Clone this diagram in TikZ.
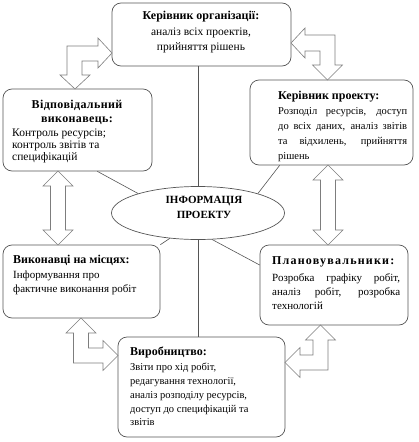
\documentclass[tikz,border=0pt]{standalone}
\usepackage{fontspec}
\setmainfont{Liberation Serif}
\usetikzlibrary{positioning,calc,shapes.geometric}
\definecolor{LineGray}{RGB}{85,85,85}
\definecolor{ArrowGray}{RGB}{125,125,125}

\begin{document}
\begin{tikzpicture}[x=1pt, y=-1pt,
    box/.style={rectangle, rounded corners=9pt, draw=LineGray, line width=0.7pt, inner sep=0pt},
    txt/.style={inner sep=0pt, font=\fontsize{11}{14}\selectfont, align=left},
    ttl/.style={inner sep=0pt, font=\fontsize{12}{14}\selectfont\bfseries, align=left},
    link/.style={draw=LineGray, line width=0.6pt},
    blk/.style={draw=ArrowGray, fill=white, line width=0.6pt, line join=miter},
]
\useasboundingbox (0,0) rectangle (419,442);

% boxes
\node[box, minimum width=179pt, minimum height=63pt] (org) at (201.5,34.5) {};
\node[box, minimum width=149pt, minimum height=82pt] (resp) at (77.5,130) {};
\node[box, minimum width=163pt, minimum height=85pt] (pm) at (331.5,122.5) {};
\node[ellipse, draw=LineGray, line width=0.7pt, minimum width=173pt, minimum height=53pt] (info) at (198,213) {};
\node[box, minimum width=157pt, minimum height=73pt] (site) at (81.5,281.5) {};
\node[box, minimum width=148pt, minimum height=80pt] (plan) at (334,285) {};
\node[box, minimum width=167pt, minimum height=100pt] (prod) at (201.5,387) {};

% texts
\node[txt, align=center, font=\fontsize{11.5}{15.5}\selectfont, anchor=north] (orgtxt) at (201,11)
    {\textbf{\fontsize{12}{15.5}\selectfont Керівник організації:}\\аналіз всіх проектів,\\прийняття рішень};
\node[ttl, align=center, anchor=north] (resptitle) at (77,100)
    {\addfontfeatures{LetterSpace=3}Відповідальний\\\addfontfeatures{LetterSpace=3}виконавець:};
\node[txt, font=\fontsize{11.5}{12}\selectfont, anchor=north west] (respbody) at (12,129)
    {Контроль ресурсів;\\контроль звітів та\\специфікацій};
\node[ttl, anchor=north west] (pmtitle) at (278,91) {Керівник проекту:};
\node[txt, font=\fontsize{10.5}{15}\selectfont, anchor=north west] (pmbody) at (278,107)
    {\makebox[129pt][s]{Розподіл ресурсів, доступ}\\\makebox[129pt][s]{до всіх даних, аналіз звітів}\\\makebox[129pt][s]{та відхилень, прийняття}\\рішень};
\node[ttl, font=\fontsize{11}{15}\selectfont\bfseries, align=center, anchor=north] (infotxt) at (204,196)
    {ІНФОРМАЦІЯ\\ПРОЕКТУ};
\node[ttl, anchor=north west] (sitetitle) at (13,255) {Виконавці на місцях:};
\node[txt, font=\fontsize{11}{14.5}\selectfont, anchor=north west] (sitebody) at (13,270.5)
    {Інформування про\\фактичне виконання робіт};
\node[ttl, anchor=north west] (plantitle) at (272,256) {\addfontfeatures{LetterSpace=10}Плановувальники:};
\node[txt, anchor=north west] (planbody) at (272,273)
    {\makebox[128pt][s]{Розробка графіку робіт,}\\\makebox[128pt][s]{аналіз робіт, розробка}\\технологій};
\node[ttl, anchor=north west] (prodtitle) at (130,347) {Виробництво:};
\node[txt, font=\fontsize{10.5}{13.8}\selectfont, anchor=north west] (prodbody) at (130,363)
    {Звіти про хід робіт,\\редагування технології,\\аналіз розподілу ресурсів,\\доступ до специфікацій та\\звітів};

% links to the centre
\draw[link] (info.north |- org.south) -- (info.north);
\draw[link] (info.south) -- (info.south |- prod.north);
\draw[link] ([xshift=-55pt]resp.south east) -- (info.162);
\draw[link] (info.18) -- ([xshift=30pt]pm.south west);
\draw[link] (info.222) -- (site.north east);
\draw[link] (info.-62) -- ([yshift=20pt]plan.west);

% block arrows
\draw[blk] (112,53) -- (98,38) -- (98,46) -- (67,46) -- (67,75) -- (60,75) -- (75,89)
    -- (90,75) -- (82,75) -- (82,61) -- (98,61) -- (98,68) -- cycle;
\draw[blk] (291,43) -- (305,28) -- (305,35) -- (335,35) -- (335,65) -- (342.5,65) -- (327.5,80)
    -- (312.5,65) -- (320,65) -- (320,51) -- (305,51) -- (305,58) -- cycle;
\draw[blk] (58,171) -- (73,186) -- (65.5,186) -- (65.5,230) -- (73,230) -- (58,245)
    -- (43,230) -- (50.5,230) -- (50.5,186) -- (43,186) -- cycle;
\draw[blk] (328,165) -- (343,180) -- (335.5,180) -- (335.5,230) -- (343,230) -- (328,245)
    -- (313,230) -- (320.5,230) -- (320.5,180) -- (313,180) -- cycle;
\draw[blk] (320.5,325) -- (335.5,340) -- (328,340) -- (328,370) -- (300,370) -- (300,377.5)
    -- (285,362.5) -- (300,347.5) -- (300,355) -- (313,355) -- (313,340) -- (305.5,340) -- cycle;
\draw[blk] (81,318) -- (96,333) -- (88.5,333) -- (88.5,348) -- (103,348) -- (103,340.5)
    -- (118,355.5) -- (103,370.5) -- (103,363) -- (73.5,363) -- (73.5,333) -- (66,333) -- cycle;
\end{tikzpicture}
\end{document}
